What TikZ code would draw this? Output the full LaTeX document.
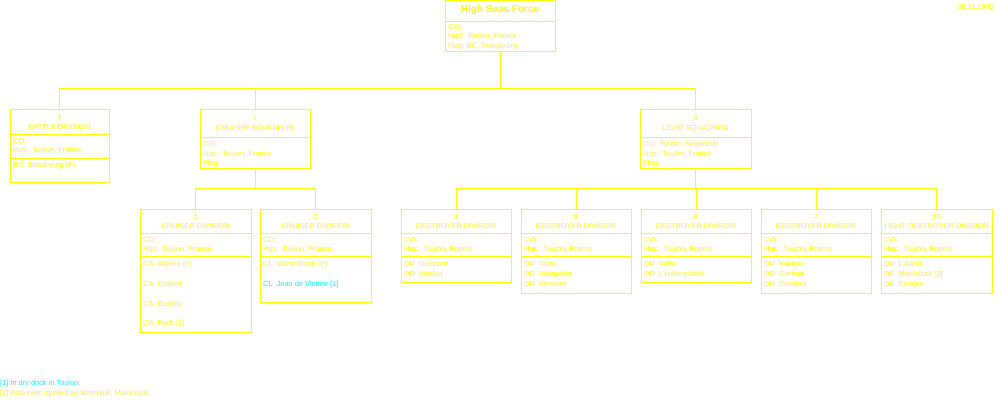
\documentclass[tikz,border=0pt]{standalone}
\usepackage{fontspec}
\setmainfont{Liberation Sans}
\usepackage{xcolor}
\usepackage{tikz}
\usetikzlibrary{positioning, calc}

\definecolor{yel}{HTML}{FFFF00}
\definecolor{cyn}{HTML}{00FFFF}
\newcommand{\unitfont}{\fontsize{7.4}{9.3}\selectfont}
\newcommand{\shipfont}{\fontsize{7.4}{10}\selectfont}

\begin{document}
\begin{tikzpicture}[
        x=1pt, y=-1pt,
        unit/.style={draw=yel, line width=1pt, rectangle, inner sep=0pt, outer sep=0pt},
        hdr/.style={text=yel, font=\unitfont, align=center, inner sep=0pt},
        info/.style={text=yel, font=\unitfont, align=left, anchor=north west, inner sep=0pt},
        ships/.style={text=yel, font=\shipfont, align=left, anchor=north west, inner sep=0pt},
        rule/.style={draw=yel, line width=1pt},
        link/.style={draw=yel, line width=1pt}
    ]
    \fill[white] (0,0) rectangle (1000,400);
    \useasboundingbox (0,0) rectangle (1000,400);

    % --- Row 1: High Seas Force ---
    \node[unit, minimum width=110pt, minimum height=51pt] (hsf) at (500,26) {};
    \node[hdr, font=\bfseries\fontsize{10}{12}\selectfont] (hsft) at (500,10) {High Seas Force};
    \draw[rule] (hsf.west |- 0,21) -- (hsf.east |- 0,21);
    \node[info] (hsfi) at (448,24.3) {CO:\\Hqs:~~Toulon, France\\Flag:~BC~~Strasbourg};
    \node[text=yel, font=\unitfont, anchor=east, inner sep=0pt] (date) at (994,7) {08.11.1942};

    % --- Row 2: Battle Division + Squadrons ---
    \node[unit, minimum width=99pt, minimum height=73pt] (bd1) at (59.5,145.5) {};
    \node[hdr] (bd1h) at (59.5,122) {1\\BATTLE DIVISION};
    \draw[rule] (bd1.west |- 0,134) -- (bd1.east |- 0,134);
    \draw[rule] (bd1.west |- 0,158) -- (bd1.east |- 0,158);
    \node[info] (bd1i) at (13,138.3) {CO:\\Hqs:~~Toulon, France};
    \node[ships] (bd1s) at (13,162.3) {BC~~Strasbourg (F)};

    \node[unit, minimum width=110pt, minimum height=59pt] (csq) at (255,138.5) {};
    \node[hdr] (csqh) at (255,123.5) {1\\CRUISER SQUADRON};
    \draw[rule] (csq.west |- 0,137) -- (csq.east |- 0,137);
    \node[info, font=\fontsize{7.4}{9.5}\selectfont] (csqi) at (203,141.3) {CO:\\Hqs:~~Toulon, France\\Flag:};

    \node[unit, minimum width=111pt, minimum height=59pt] (lsq) at (695.5,138.5) {};
    \node[hdr] (lsqh) at (695.5,123.5) {3\\LIGHT SQUADRON};
    \draw[rule] (lsq.west |- 0,137) -- (lsq.east |- 0,137);
    \node[info, font=\fontsize{7.4}{9.5}\selectfont] (lsqi) at (643,141.3) {CO:~~RAdm~~Negadelle\\Hqs:~~Toulon, France\\Flag:};

    % --- Row 3: Divisions ---
    \node[unit, minimum width=111pt, minimum height=123pt] (cd1) at (195.5,270.5) {};
    \node[hdr] (cd1h) at (195.5,221.5) {1\\CRUISER DIVISION};
    \draw[rule] (cd1.west |- 0,233) -- (cd1.east |- 0,233);
    \draw[rule] (cd1.west |- 0,256) -- (cd1.east |- 0,256);
    \node[info] (cd1i) at (143,237.3) {CO:\\Hqs:~~Toulon, France};
    \node[ships] (cd1s) at (143,261.3) {CA~~Algérie (F)\\[10pt]CA~~Colbert\\[10pt]CA~~Dupleix\\[9pt]CA~~Foch [2]};

    \node[unit, minimum width=111pt, minimum height=93pt] (cd2) at (315.5,255.5) {};
    \node[hdr] (cd2h) at (315.5,221.5) {2\\CRUISER DIVISION};
    \draw[rule] (cd2.west |- 0,233) -- (cd2.east |- 0,233);
    \draw[rule] (cd2.west |- 0,256) -- (cd2.east |- 0,256);
    \node[info] (cd2i) at (263,237.3) {CO:\\Hqs:~~Toulon, France};
    \node[ships] (cd2s) at (263,261.3) {CL~~Marseillaise (F)\\[10pt]\textcolor{cyn}{CL~~Jean de Vienne [1]}};

    \node[unit, minimum width=110pt, minimum height=73pt] (dd3) at (456,245.5) {};
    \node[hdr] (dd3h) at (456,221.5) {3\\DESTROYER DIVISION};
    \draw[rule] (dd3.west |- 0,233) -- (dd3.east |- 0,233);
    \draw[rule] (dd3.west |- 0,256) -- (dd3.east |- 0,256);
    \node[info] (dd3i) at (404,237.3) {CO:\\Hqs:~~Toulon, France};
    \node[ships] (dd3s) at (404,261.3) {DD~~Guépard\\DD~~Verdun};

    \node[unit, minimum width=110pt, minimum height=84pt] (dd5) at (576,251) {};
    \node[hdr] (dd5h) at (576,221.5) {5\\DESTROYER DIVISION};
    \draw[rule] (dd5.west |- 0,233) -- (dd5.east |- 0,233);
    \draw[rule] (dd5.west |- 0,256) -- (dd5.east |- 0,256);
    \node[info] (dd5i) at (524,237.3) {CO:\\Hqs:~~Toulon, France};
    \node[ships] (dd5s) at (524,261.3) {DD~~Tartu\\DD~~Vauquelin\\DD~~Kersaint};

    \node[unit, minimum width=110pt, minimum height=73pt] (dd6) at (696,245.5) {};
    \node[hdr] (dd6h) at (696,221.5) {6\\DESTROYER DIVISION};
    \draw[rule] (dd6.west |- 0,233) -- (dd6.east |- 0,233);
    \draw[rule] (dd6.west |- 0,256) -- (dd6.east |- 0,256);
    \node[info] (dd6i) at (644,237.3) {CO:\\Hqs:~~Toulon, France};
    \node[ships] (dd6s) at (644,261.3) {DD~~Volta\\DD~~L'Indomptable};

    \node[unit, minimum width=110pt, minimum height=84pt] (dd7) at (816,251) {};
    \node[hdr] (dd7h) at (816,221.5) {7\\DESTROYER DIVISION};
    \draw[rule] (dd7.west |- 0,233) -- (dd7.east |- 0,233);
    \draw[rule] (dd7.west |- 0,256) -- (dd7.east |- 0,256);
    \node[info] (dd7i) at (764,237.3) {CO:\\Hqs:~~Toulon, France};
    \node[ships] (dd7s) at (764,261.3) {DD~~Vautour\\DD~~Gerfaut\\DD~~Cassard};

    \node[unit, minimum width=111pt, minimum height=84pt] (ld10) at (936.5,251) {};
    \node[hdr] (ld10h) at (936.5,221.5) {10\\LIGHT DESTROYER DIVISION};
    \draw[rule] (ld10.west |- 0,233) -- (ld10.east |- 0,233);
    \draw[rule] (ld10.west |- 0,256) -- (ld10.east |- 0,256);
    \node[info] (ld10i) at (884,237.3) {CO:\\Hqs:~~Toulon, France};
    \node[ships] (ld10s) at (884,261.3) {DE~~L'Adroit\\DE~~Mameluck [2]\\DE~~Casque};

    % --- Connectors ---
    \coordinate (bus1) at (500,88);
    \draw[link] (hsf.south) -- (bus1) -| (bd1.north);
    \draw[link] (bus1) -| (csq.north);
    \draw[link] (bus1) -| (lsq.north);

    \coordinate (bus2) at (255,188);
    \draw[link] (csq.south) -- (bus2) -| (cd1.north);
    \draw[link] (bus2) -| (cd2.north);

    \coordinate (bus3) at (695.5,188);
    \draw[link] (lsq.south) -- (bus3) -| (dd3.north);
    \draw[link] (bus3) -| (dd5.north);
    \draw[link] (bus3) -| (dd6.north);
    \draw[link] (bus3) -| (dd7.north);
    \draw[link] (bus3) -| (ld10.north);

    % --- Footnotes ---
    \node[text=cyn, font=\unitfont, anchor=west, inner sep=0pt] (note1) at (0,384) {[1] In dry dock in Toulon.};
    \node[text=yel, font=\unitfont, anchor=west, inner sep=0pt] (note2) at (0,394) {[2] Also seen spelled as Mameluk, Mamelouk.};
\end{tikzpicture}
\end{document}
